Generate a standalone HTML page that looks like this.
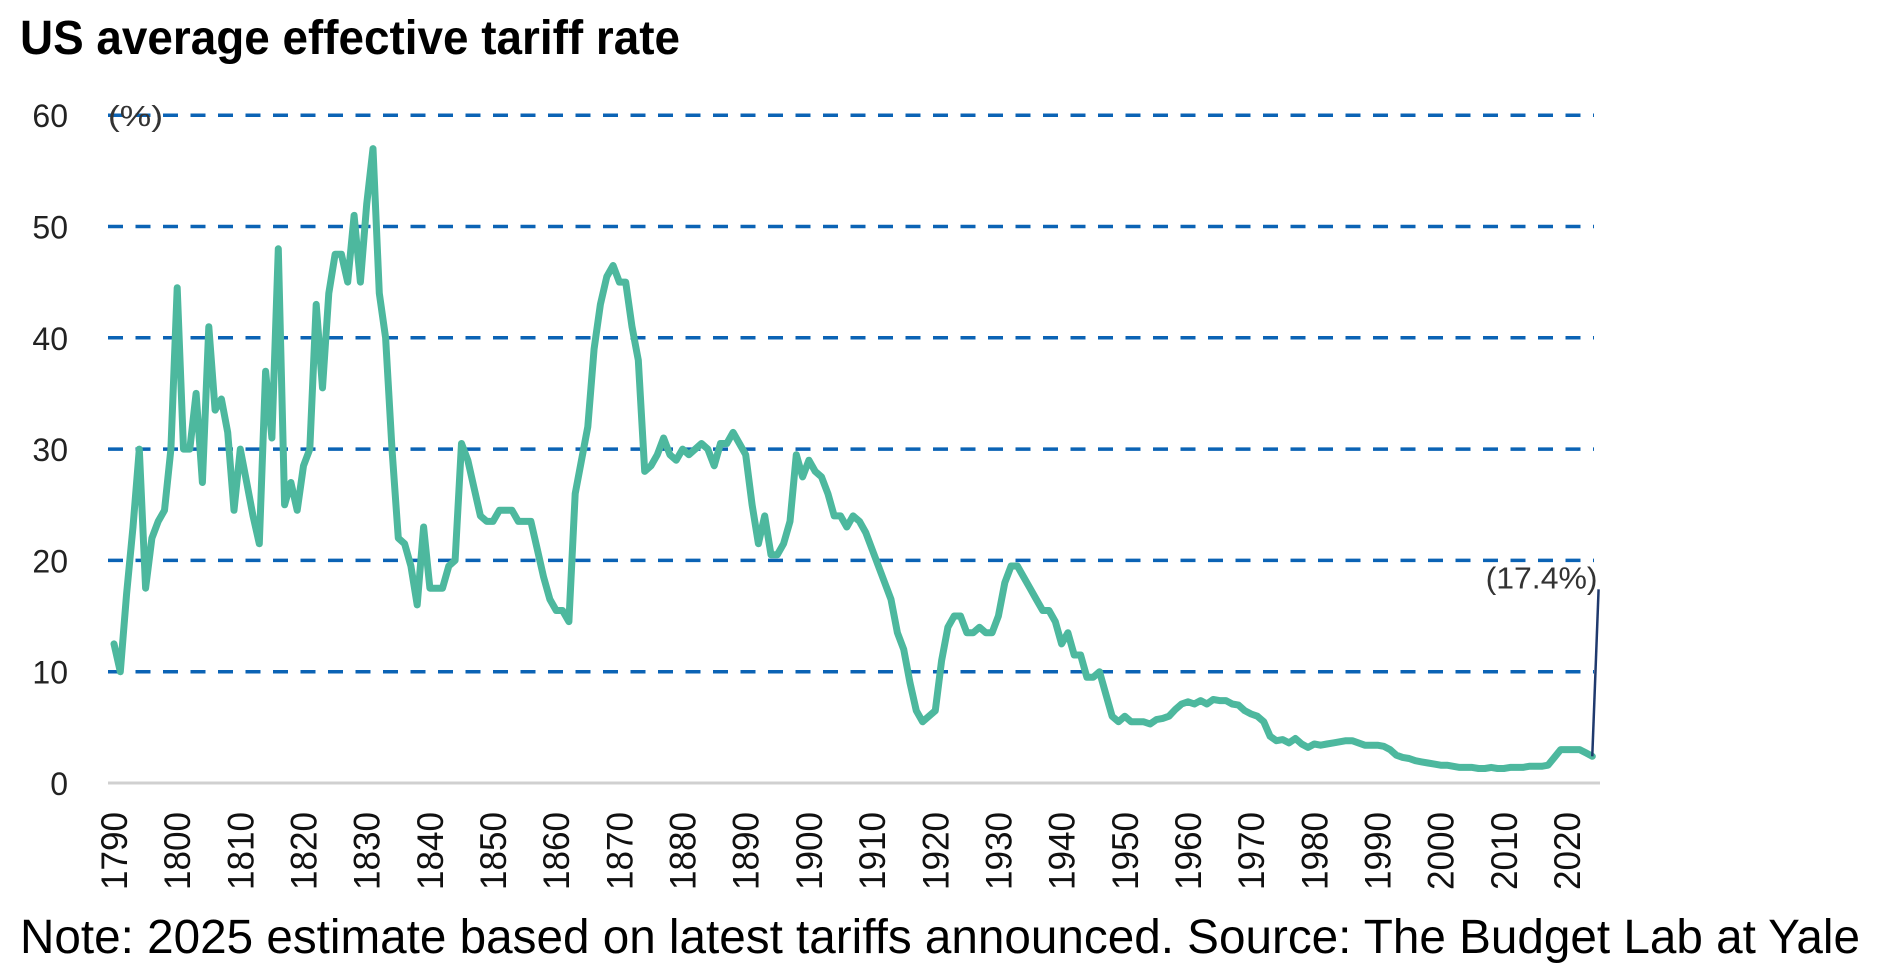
<!DOCTYPE html>
<html><head><meta charset="utf-8"><style>
html,body{margin:0;padding:0;background:#fff;}
svg{display:block;font-family:"Liberation Sans",sans-serif;}
</style></head><body>
<svg id="chart" width="1878" height="965" viewBox="0 0 1878 965">
<text x="20" y="54" font-size="48" font-weight="bold" fill="#000" textLength="660" lengthAdjust="spacingAndGlyphs">US average effective tariff rate</text>
<g id="grid"></g>
<g id="yaxis"></g>
<g id="xaxis"></g>
<text x="108" y="126" font-size="29" fill="#333" textLength="55" lengthAdjust="spacingAndGlyphs">(%)</text>
<g id="series"></g>
<text x="1860" y="953" font-size="48" fill="#000" text-anchor="end" textLength="1840" lengthAdjust="spacingAndGlyphs">Note: 2025 estimate based on latest tariffs announced. Source: The Budget Lab at Yale</text>
</svg>
<script>
const startYear = 1790;
const rates = [12.5,10,17,23,30,17.5,22,23.5,24.5,30,44.5,30,30,35,27,41,33.5,34.5,31.5,24.5,
30,27,24,21.5,37,31,48,25,27,24.5,28.5,30,43,35.5,44,47.5,47.5,45,51,45,
52,57,44,40,30,22,21.5,19.5,16,23,17.5,17.5,17.5,19.5,20,30.5,29,26.5,24,23.5,
23.5,24.5,24.5,24.5,23.5,23.5,23.5,21,18.5,16.5,15.5,15.5,14.5,26,29,32,39,43,45.5,46.5,
45,45,41,38,28,28.5,29.5,31,29.5,29,30,29.5,30,30.5,30,28.5,30.5,30.5,31.5,30.5,
29.5,25,21.5,24,20.5,20.5,21.5,23.5,29.5,27.5,29,28,27.5,26,24,24,23,24,23.5,22.5,
21,19.5,18,16.5,13.5,12,9,6.5,5.5,6,6.5,11,14,15,15,13.5,13.5,14,13.5,13.5,
15,18,19.5,19.5,18.5,17.5,16.5,15.5,15.5,14.5,12.5,13.5,11.5,11.5,9.5,9.5,10,8,6,5.5,
6,5.5,5.5,5.5,5.3,5.7,5.8,6,6.6,7.1,7.3,7.1,7.4,7.1,7.5,7.4,7.4,7.1,7.0,6.5,
6.2,6,5.5,4.2,3.8,3.9,3.6,4.0,3.5,3.2,3.5,3.4,3.5,3.6,3.7,3.8,3.8,3.6,3.4,3.4,
3.4,3.3,3.0,2.5,2.3,2.2,2.0,1.9,1.8,1.7,1.6,1.6,1.5,1.4,1.4,1.4,1.3,1.3,1.4,1.3,
1.3,1.4,1.4,1.4,1.5,1.5,1.5,1.6,2.3,3.0,3.0,3.0,3.0,2.7,2.4];
const estimateYear = 2025;
const estimateValue = 17.4;
const yTicks = [0,10,20,30,40,50,60];
const xTicks = [1790,1800,1810,1820,1830,1840,1850,1860,1870,1880,1890,1900,1910,1920,1930,1940,1950,1960,1970,1980,1990,2000,2010,2020];

const NS = "http://www.w3.org/2000/svg";
const X = yr => 114 + (yr - 1790) * (1567 - 114) / 230;
const Y = v => 783 - v * 11.13;
function mk(tag, attrs, parent, txt){const e=document.createElementNS(NS,tag);for(const k in attrs)e.setAttribute(k,attrs[k]);if(txt!==undefined)e.textContent=txt;parent.appendChild(e);return e;}
const grid=document.getElementById('grid'), ya=document.getElementById('yaxis'), xa=document.getElementById('xaxis'), se=document.getElementById('series');
yTicks.forEach(t=>{
  if(t>0){const l=mk('line',{x1:108,x2:1594,y1:Y(t),y2:Y(t),stroke:'#0b63b5','stroke-width':3.5,'stroke-dasharray':'15 12.5'},grid);
  
  }
  const tx=mk('text',{x:68,y:Y(t)+12,'font-size':32,'text-anchor':'end',fill:'#222'},ya,String(t));
  
  
});
const base=mk('line',{x1:108,x2:1600,y1:Y(0),y2:Y(0),stroke:'#d0d0d0','stroke-width':3},xa);


xTicks.forEach(t=>{
  const tx=mk('text',{transform:`translate(${X(t)+13},890) rotate(-90)`,'font-size':37,fill:'#111',textLength:78,lengthAdjust:'spacingAndGlyphs'},xa,String(t));
  
  
});
const pts=rates.map((v,i)=>X(startYear+i).toFixed(1)+','+Y(v).toFixed(1)).join(' ');
const pl=mk('polyline',{points:pts,fill:'none',stroke:'#4db89e','stroke-width':7,'stroke-linejoin':'round','stroke-linecap':'round'},se);


const lastYear=startYear+rates.length-1;
const el=mk('line',{x1:X(lastYear),y1:Y(rates[rates.length-1]),x2:X(estimateYear),y2:Y(estimateValue),stroke:'#1f3a6e','stroke-width':2.5},se);


const lb=mk('text',{x:X(estimateYear)-1,y:Y(estimateValue)-1,'font-size':31,'text-anchor':'end',fill:'#333',textLength:112,lengthAdjust:'spacingAndGlyphs'},se,'('+estimateValue+'%)');


</script>
</body></html>
